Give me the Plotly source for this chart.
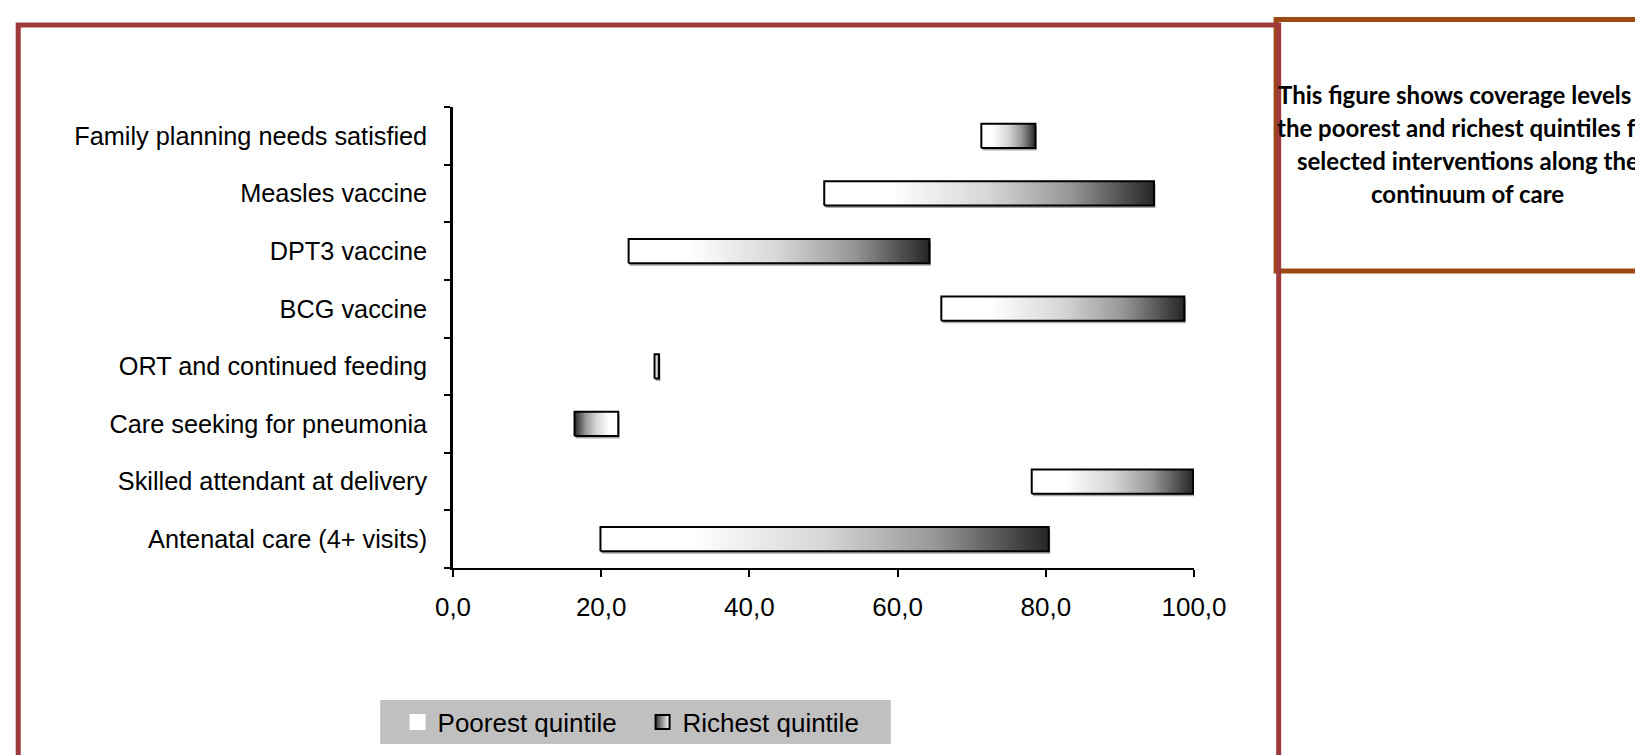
import plotly.graph_objects as go

# ---- data (bottom to top) ----
categories = [
    "Antenatal care (4+ visits)",
    "Skilled attendant at delivery",
    "Care seeking for pneumonia",
    "ORT and continued feeding",
    "BCG vaccine",
    "DPT3 vaccine",
    "Measles vaccine",
    "Family planning needs satisfied",
]
poorest = [19.9, 78.1, 22.3, 27.2, 65.9, 23.7, 50.1, 71.3]
richest = [80.4, 99.9, 16.4, 27.8, 98.7, 64.3, 94.6, 78.6]

x_tickvals = [0, 20, 40, 60, 80, 100]
x_ticktext = ["0,0", "20,0", "40,0", "60,0", "80,0", "100,0"]
legend_names = ["Poorest quintile", "Richest quintile"]
note_lines = [
    "This figure shows coverage levels in",
    "the poorest and richest quintiles for",
    "selected interventions along the",
    "continuum of care",
]

# ---- layout geometry (pixels) ----
W, H = 1643, 755
L, R, T, B = 445.4, 1185.6, 98.7, 559.7
HALF = 0.21
FONT = "Liberation Sans, Arial, sans-serif"


def xp(px):
    return (px - L) / (R - L)


def yp(py):
    return (B - py) / (B - T)


grad = [[0, "#ffffff"], [0.2, "#ffffff"], [0.5, "#d6d6d6"],
        [0.75, "#969696"], [1, "#262626"]]

# shadow offset (pixels converted to data units)
DX = 1.5 * 100 / (R - L)
DY = 2.5 / ((B - T) / len(categories))

fig = go.Figure()
for i, (p, r) in enumerate(zip(poorest, richest)):
    lo, hi = min(p, r), max(p, r)
    fig.add_trace(go.Scatter(
        x=[lo + DX, hi + DX, hi + DX, lo + DX, lo + DX],
        y=[i - HALF - DY, i - HALF - DY, i + HALF - DY, i + HALF - DY, i - HALF - DY],
        mode="lines", fill="toself", fillcolor="#a8a8a8",
        line=dict(width=0), showlegend=False, hoverinfo="skip",
    ))

for i, (c, p, r) in enumerate(zip(categories, poorest, richest)):
    lo, hi = min(p, r), max(p, r)
    fig.add_trace(go.Scatter(
        x=[lo, hi, hi, lo, lo],
        y=[i - HALF, i - HALF, i + HALF, i + HALF, i - HALF],
        mode="lines",
        fill="toself",
        fillgradient=dict(type="horizontal", colorscale=grad, start=p, stop=r),
        line=dict(color="black", width=2),
        showlegend=False,
        hoveron="fills",
        text=f"{c}: poorest {p}, richest {r}",
        hoverinfo="text",
    ))

fig.add_trace(go.Scatter(
    x=[None], y=[None], mode="markers", name=legend_names[0],
    marker=dict(symbol="square", size=16, color="white", line=dict(width=0)),
))
fig.add_trace(go.Scatter(
    x=[None], y=[None], mode="markers", name=legend_names[1],
    marker=dict(symbol="square", size=14, color="#303030",
                gradient=dict(type="horizontal", color="white"),
                line=dict(color="black", width=2)),
))

shapes = [
    dict(type="rect", xref="paper", yref="paper",
         x0=xp(1267.6), x1=xp(1720), y0=yp(262.6), y1=yp(11.2),
         line=dict(color="#9c4a12", width=5), fillcolor="white", layer="below"),
    dict(type="rect", xref="paper", yref="paper",
         x0=xp(11.1), x1=xp(1270.2), y0=yp(800), y1=yp(16.6),
         line=dict(color="#9e3a3a", width=5), layer="below"),
    # legend background
    dict(type="rect", xref="paper", yref="paper",
         x0=xp(372.7), x1=xp(882.7), y0=yp(735.6), y1=yp(691.7),
         line=dict(width=0), fillcolor="#c0c0c0", layer="below"),
]

line_y = [86.5, 119.5, 152.5, 185.5]
annotations = [
    dict(xref="paper", yref="paper", x=xp(1459), y=yp(yy), text=t,
         showarrow=False, xanchor="center", yanchor="middle",
         font=dict(family="Lato, sans-serif", size=24, color="black", weight="bold"))
    for t, yy in zip(note_lines, line_y)
]

fig.update_layout(
    width=W, height=H, autosize=False,
    margin=dict(l=L, r=W - R, t=T, b=H - B, pad=0),
    paper_bgcolor="white", plot_bgcolor="white",
    font=dict(family=FONT, size=24, color="black"),
    shapes=shapes, annotations=annotations,
    showlegend=True,
    legend=dict(orientation="h", x=xp(390), y=yp(713.7), xanchor="left", yanchor="middle",
                bgcolor="rgba(0,0,0,0)", borderwidth=0,
                entrywidth=200, entrywidthmode="pixels",
                font=dict(family=FONT, size=26, color="black"),
                itemclick=False, itemdoubleclick=False),
    xaxis=dict(range=[0, 100], tickvals=x_tickvals, ticktext=x_ticktext,
               ticks="outside", ticklen=7, tickwidth=2, tickcolor="black",
               showline=True, linewidth=2, linecolor="black",
               showgrid=False, zeroline=False, ticklabelstandoff=8,
               tickfont=dict(family=FONT, size=26, color="black"), fixedrange=True),
    yaxis=dict(range=[-0.5, 7.5], tickvals=list(range(len(categories))), ticktext=categories,
               ticks="", showline=True, linewidth=2.5, linecolor="black",
               minor=dict(tickvals=[i - 0.5 for i in range(len(categories) + 1)],
                          ticks="outside", ticklen=6, tickwidth=2, tickcolor="black"),
               showgrid=False, zeroline=False, ticklabelstandoff=18,
               tickfont=dict(family=FONT, size=25.3, color="black"), fixedrange=True),
)

fig.write_html("out.html")
